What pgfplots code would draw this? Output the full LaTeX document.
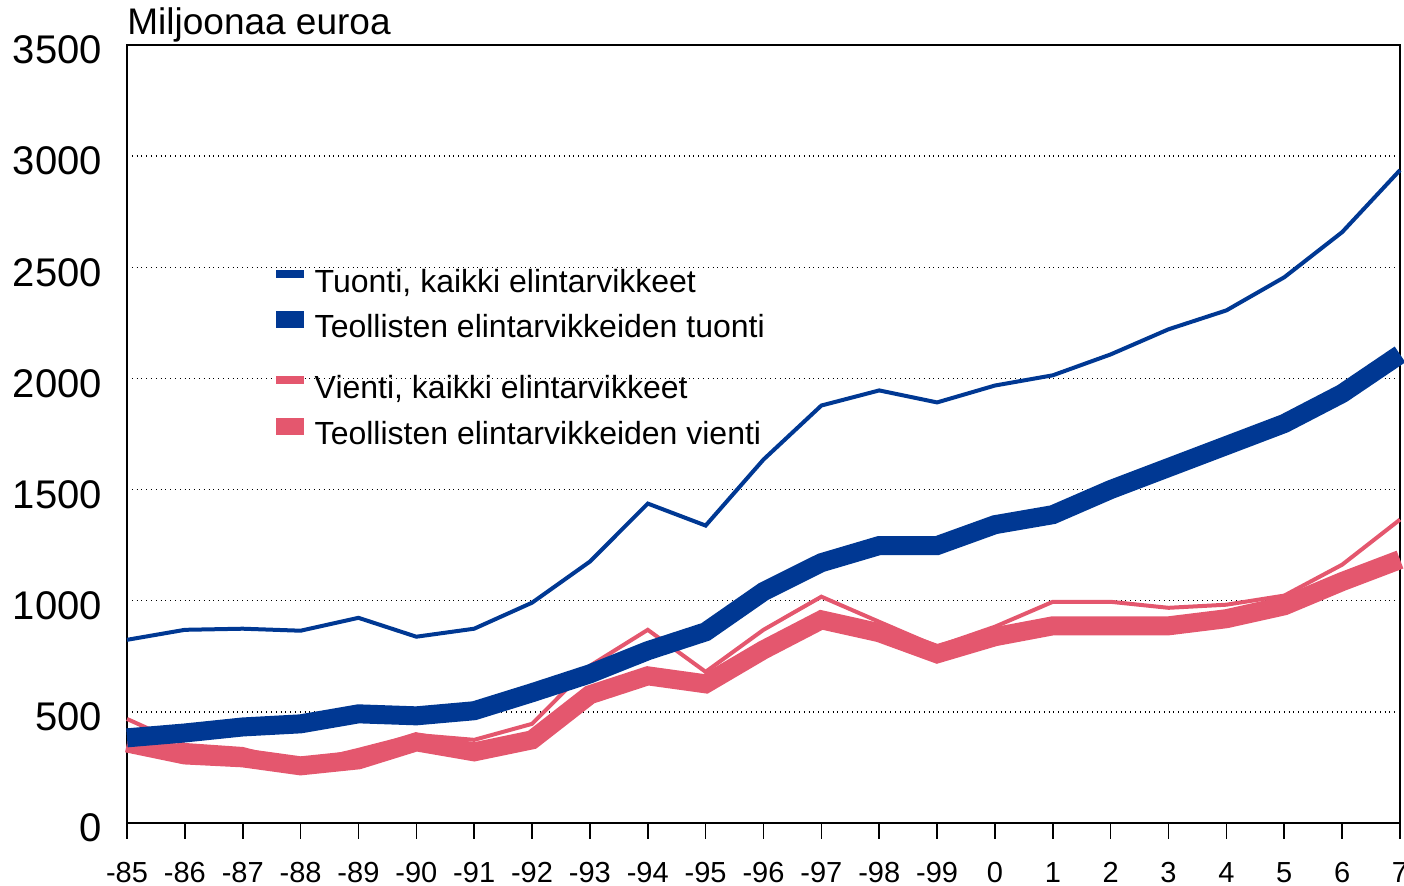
\documentclass[border=0pt]{standalone}
\usepackage{pgfplots}
\pgfplotsset{compat=1.18}
\usepackage{fontspec}
\setmainfont{Liberation Sans}
\definecolor{cblue}{RGB}{0,56,147}
\definecolor{cpink}{RGB}{228,87,110}
\begin{document}
\begin{tikzpicture}
\pgfplotsset{
  myaxis/.style={
    at={(0pt,0pt)}, anchor=south west,
    width=636.5pt, height=389pt, scale only axis,
    xmin=0, xmax=22, ymin=0, ymax=3500,
    clip=false,
  }
}
\begin{axis}[
  myaxis,
  axis line style={line width=1pt},
  xtick={0,...,22},
  xticklabels={-85,-86,-87,-88,-89,-90,-91,-92,-93,-94,-95,-96,-97,-98,-99,0,1,2,3,4,5,6,7},
  ytick={0,500,...,3500},
  /pgf/number format/assume math mode=true,
  /pgf/number format/1000 sep={},
  tick align=outside,
  xtick pos=bottom,
  major x tick style={line width=0.8pt, black},
  major tick length=8pt,
  ytick style={draw=none},
  ytick pos=left,
  ymajorgrids=true,
  grid style={dotted, line width=0.7pt, black},
  xticklabel style={font=\fontsize{14.5}{16}\selectfont, yshift=-8pt},
  yticklabel style={font=\fontsize{20}{22}\selectfont, xshift=-1pt, yshift=-2.5pt},
  legend style={draw=none, fill=none, at={(rel axis cs:0.117,0.7133)}, anchor=north west,
    inner sep=0pt, outer sep=0pt, row sep=6pt,
    font=\fontsize{16}{18}\selectfont,
    nodes={inner sep=0pt, text height=12pt, text depth=3.5pt},
    column sep=5.5pt},
  legend cell align=left,
]
\addplot[cpink, line width=9.5pt, forget plot] coordinates {
(0,360)(1,306)(2,293)(3,257)(4,284)(5,365)(6,320)(7,374)(8,577)(9,662)(10,626)(11,779)(12,914)(13,856)(14,761)(15,838)(16,887)(17,887)(18,887)(19,919)(20,977)(21,1086)(22,1185)};
\addplot[cpink, line width=2pt, forget plot] coordinates {
(0,468)(1,351)(2,333)(3,266)(4,329)(5,396)(6,374)(7,446)(8,707)(9,869)(10,680)(11,869)(12,1018)(13,905)(14,793)(15,883)(16,995)(17,995)(18,968)(19,982)(20,1023)(21,1162)(22,1365)};
\addplot[cblue, line width=9.5pt, forget plot] coordinates {
(0,383)(1,405)(2,432)(3,446)(4,491)(5,482)(6,505)(7,586)(8,671)(9,775)(10,860)(11,1041)(12,1171)(13,1248)(14,1248)(15,1342)(16,1387)(17,1500)(18,1599)(19,1698)(20,1797)(21,1932)(22,2108)};
\addplot[cblue, line width=2pt, forget plot] coordinates {
(0,824)(1,869)(2,874)(3,865)(4,923)(5,838)(6,874)(7,991)(8,1176)(9,1437)(10,1338)(11,1635)(12,1878)(13,1946)(14,1892)(15,1968)(16,2014)(17,2108)(18,2221)(19,2306)(20,2455)(21,2658)(22,2937)};
\addlegendimage{legend image code/.code={\fill[cblue] (0pt,3.25pt) rectangle (13.5pt,6.75pt);}}
\addlegendentry{Tuonti, kaikki elintarvikkeet}
\addlegendimage{legend image code/.code={\fill[cblue] (0pt,1pt) rectangle (13.5pt,9pt);}}
\addlegendentry{Teollisten elintarvikkeiden tuonti}
\node[anchor=base west, inner sep=0pt, font=\fontsize{18.5}{20}\selectfont] at ([yshift=5pt]rel axis cs:0,1) {Miljoonaa euroa};
\end{axis}
\begin{axis}[
  myaxis, hide axis,
  legend style={draw=none, fill=none, at={(rel axis cs:0.117,0.5763)}, anchor=north west,
    inner sep=0pt, outer sep=0pt, row sep=6pt,
    font=\fontsize{16}{18}\selectfont,
    nodes={inner sep=0pt, text height=12pt, text depth=3.5pt},
    column sep=5.5pt},
  legend cell align=left,
]
\addlegendimage{legend image code/.code={\fill[cpink] (0pt,3.25pt) rectangle (13.5pt,6.75pt);}}
\addlegendentry{Vienti, kaikki elintarvikkeet}
\addlegendimage{legend image code/.code={\fill[cpink] (0pt,1pt) rectangle (13.5pt,9pt);}}
\addlegendentry{Teollisten elintarvikkeiden vienti}
\end{axis}
\pgfresetboundingbox
\useasboundingbox (-63.5pt,-31.5pt) rectangle (638.5pt,411.5pt);
\end{tikzpicture}
\end{document}
